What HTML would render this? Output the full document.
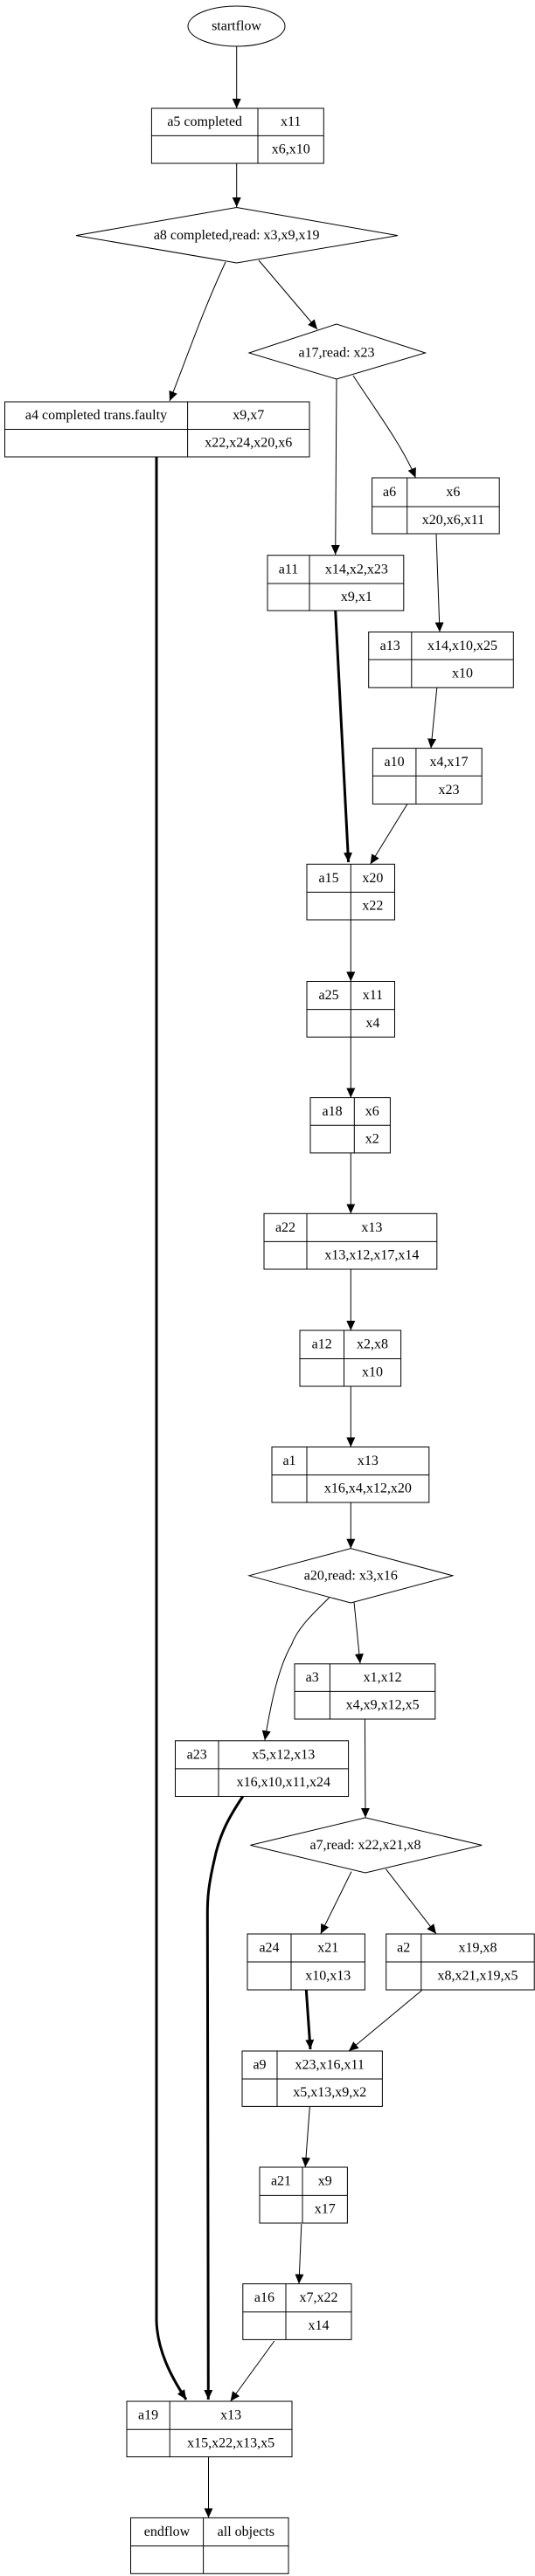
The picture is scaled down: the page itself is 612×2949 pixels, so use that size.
<!DOCTYPE html>
<html><head><meta charset="utf-8"><style>
html,body{margin:0;padding:0;background:#fff}
svg{display:block}
text{font-family:"Liberation Serif",serif;font-size:16px;fill:#000;text-anchor:middle;dominant-baseline:central}
.b rect,.b line{stroke:#000;stroke-width:1;fill:none}
.e{stroke:#000;stroke-width:1;fill:none}
.t{stroke:#000;stroke-width:3;fill:none}
</style></head><body>
<svg width="612" height="2949" viewBox="0 0 612 2949" xmlns="http://www.w3.org/2000/svg">
<defs>
<marker id="ar" markerUnits="userSpaceOnUse" markerWidth="12" markerHeight="10" refX="11" refY="5" orient="auto"><path d="M0,0 L11,5 L0,10 z" fill="#000"/></marker>
</defs>

<!-- startflow -->
<ellipse cx="270.5" cy="30" rx="55.5" ry="23" fill="none" stroke="#000"/>
<text x="270.5" y="30">startflow</text>

<!-- edges thin -->
<g marker-end="url(#ar)">
<path class="e" d="M270.7,53 L270.7,124"/>
<path class="e" d="M270.7,187 L270.7,237"/>
<path class="e" d="M258,300 C230,360 210,420 194,459"/>
<path class="e" d="M296,298 L363,377"/>
<path class="e" d="M385,434 L383.7,635"/>
<path class="e" d="M404,430 C430,470 460,510 475.5,547"/>
<path class="e" d="M499,611.6 L503,723.5"/>
<path class="e" d="M499.8,787.2 L493,856.6"/>
<path class="e" d="M466,920.4 L423.7,989.3"/>
<path class="e" d="M401.3,1053 L401.3,1123.5"/>
<path class="e" d="M401.3,1187.2 L401.3,1256.6"/>
<path class="e" d="M401.3,1319.9 L401.3,1389.3"/>
<path class="e" d="M401.3,1453 L401.3,1523"/>
<path class="e" d="M401.3,1587 L401.3,1656.5"/>
<path class="e" d="M401.3,1720 L401.3,1772.7"/>
<path class="e" d="M405,1834 L412,1904.3"/>
<path class="e" d="M376.6,1829 C355,1850 340,1865 333.5,1882.8 C318,1910 310,1950 302.9,1992.3"/>
<path class="e" d="M417.4,1968 L418,2080.9"/>
<path class="e" d="M402,2142.6 L366.8,2213.9"/>
<path class="e" d="M441.4,2139.7 L499,2213.9"/>
<path class="e" d="M482.5,2278.6 L399,2348"/>
<path class="e" d="M354.3,2412 L349.2,2481"/>
<path class="e" d="M344.8,2546 L342,2614.5"/>
<path class="e" d="M313.8,2680 L263.6,2749"/>
<path class="e" d="M238.5,2812.6 L238.5,2882.4"/>
</g>
<!-- thick edges -->
<g marker-end="url(#ar)">
<path class="t" d="M179,523 L179,2657 C180,2690 195,2720 213,2747"/>
<path class="t" d="M383.7,699 L398.6,987"/>
<path class="t" d="M277.8,2056.5 C262,2080 251,2100 245,2130 C238,2160 237.3,2175 237.3,2190 L238.3,2747"/>
<path class="t" d="M350.3,2277.7 L355,2346"/>
</g>

<!-- diamonds -->
<polygon points="87,269.6 270.7,237.5 455,269.6 270.7,301" fill="none" stroke="#000"/>
<text x="270.7" y="269.6">a8 completed,read: x3,x9,x19</text>
<polygon points="285,404 385,371 486.5,404 385,434" fill="none" stroke="#000"/>
<text x="385" y="404">a17,read: x23</text>
<polygon points="284.8,1803.8 401.3,1772.7 517.8,1803.8 401.3,1835" fill="none" stroke="#000"/>
<text x="401.3" y="1803.8">a20,read: x3,x16</text>
<polygon points="286.4,2112.4 418,2080.9 551.2,2112.4 418,2144" fill="none" stroke="#000"/>
<text x="418" y="2112.4">a7,read: x22,x21,x8</text>

<!-- boxes -->
<g class="b">
<rect x="173.4" y="124" width="196.9" height="63"/><line x1="173.4" y1="155.4" x2="370.3" y2="155.4"/><line x1="295" y1="124" x2="295" y2="187"/>
<rect x="5.5" y="460" width="348.5" height="63"/><line x1="5.5" y1="491.5" x2="354" y2="491.5"/><line x1="214.6" y1="460" x2="214.6" y2="523"/>
<rect x="425.6" y="547" width="145.6" height="64"/><line x1="425.6" y1="580" x2="571.2" y2="580"/><line x1="465.7" y1="547" x2="465.7" y2="611"/>
<rect x="306" y="635.7" width="155.8" height="63.3"/><line x1="306" y1="668" x2="461.8" y2="668"/><line x1="354" y1="635.7" x2="354" y2="699"/>
<rect x="421.7" y="723.5" width="165.6" height="63.7"/><line x1="421.7" y1="755.1" x2="587.3" y2="755.1"/><line x1="470.8" y1="723.5" x2="470.8" y2="787.2"/>
<rect x="426.4" y="856.6" width="124.8" height="63.8"/><line x1="426.4" y1="888.3" x2="551.2" y2="888.3"/><line x1="475.9" y1="856.6" x2="475.9" y2="920.4"/>
<rect x="351" y="989.3" width="100.5" height="63.7"/><line x1="351" y1="1021.4" x2="451.5" y2="1021.4"/><line x1="401.3" y1="989.3" x2="401.3" y2="1053"/>
<rect x="351" y="1123.5" width="100.5" height="63.7"/><line x1="351" y1="1155.6" x2="451.5" y2="1155.6"/><line x1="401.3" y1="1123.5" x2="401.3" y2="1187.2"/>
<rect x="355" y="1256.6" width="91.4" height="63.3"/><line x1="355" y1="1288.3" x2="446.4" y2="1288.3"/><line x1="405.3" y1="1256.6" x2="405.3" y2="1319.9"/>
<rect x="302" y="1389.3" width="197.8" height="63.7"/><line x1="302" y1="1421.4" x2="499.8" y2="1421.4"/><line x1="351" y1="1389.3" x2="351" y2="1453"/>
<rect x="343" y="1523" width="115.6" height="64"/><line x1="343" y1="1555.5" x2="458.6" y2="1555.5"/><line x1="393.5" y1="1523" x2="393.5" y2="1587"/>
<rect x="311" y="1656.5" width="179.8" height="63.5"/><line x1="311" y1="1688.5" x2="490.8" y2="1688.5"/><line x1="351" y1="1656.5" x2="351" y2="1720"/>
<rect x="337" y="1904.8" width="160.8" height="63.2"/><line x1="337" y1="1936.4" x2="497.8" y2="1936.4"/><line x1="377.4" y1="1904.8" x2="377.4" y2="1968"/>
<rect x="200.5" y="1992.8" width="198.1" height="63.7"/><line x1="200.5" y1="2024.9" x2="398.6" y2="2024.9"/><line x1="250" y1="1992.8" x2="250" y2="2056.5"/>
<rect x="283" y="2214" width="134.4" height="64"/><line x1="283" y1="2246" x2="417.4" y2="2246"/><line x1="333" y1="2214" x2="333" y2="2278"/>
<rect x="441.7" y="2214" width="169.5" height="64"/><line x1="441.7" y1="2246" x2="611.2" y2="2246"/><line x1="481.8" y1="2214" x2="481.8" y2="2278"/>
<rect x="277" y="2348" width="160.4" height="63.4"/><line x1="277" y1="2380" x2="437.4" y2="2380"/><line x1="317" y1="2348" x2="317" y2="2411.4"/>
<rect x="297" y="2481" width="100.4" height="64"/><line x1="297" y1="2513.4" x2="397.4" y2="2513.4"/><line x1="346" y1="2481" x2="346" y2="2545"/>
<rect x="277.8" y="2614.5" width="124.2" height="63.9"/><line x1="277.8" y1="2646.7" x2="402" y2="2646.7"/><line x1="327" y1="2614.5" x2="327" y2="2678.4"/>
<rect x="145" y="2749" width="189" height="63.6"/><line x1="145" y1="2781.3" x2="334" y2="2781.3"/><line x1="194.2" y1="2749" x2="194.2" y2="2812.6"/>
<rect x="149.5" y="2882.4" width="180.5" height="63.9"/><line x1="149.5" y1="2914.6" x2="330" y2="2914.6"/><line x1="232.6" y1="2882.4" x2="232.6" y2="2946.3"/>
</g>

<!-- box labels -->
<text x="234.2" y="139.7">a5 completed</text><text x="332.7" y="139.7">x11</text><text x="332.7" y="171.2">x6,x10</text>
<text x="110" y="475.7">a4 completed trans.faulty</text><text x="284.3" y="475.7">x9,x7</text><text x="284.3" y="507.2">x22,x24,x20,x6</text>
<text x="445.6" y="563.5">a6</text><text x="518.4" y="563.5">x6</text><text x="518.4" y="595.5">x20,x6,x11</text>
<text x="330" y="651.8">a11</text><text x="407.9" y="651.8">x14,x2,x23</text><text x="407.9" y="683.5">x9,x1</text>
<text x="446.2" y="739.3">a13</text><text x="529" y="739.3">x14,x10,x25</text><text x="529" y="771.2">x10</text>
<text x="451.1" y="872.4">a10</text><text x="513.5" y="872.4">x4,x17</text><text x="513.5" y="904.3">x23</text>
<text x="376.1" y="1005.3">a15</text><text x="426.4" y="1005.3">x20</text><text x="426.4" y="1037.2">x22</text>
<text x="376.1" y="1139.5">a25</text><text x="426.4" y="1139.5">x11</text><text x="426.4" y="1171.4">x4</text>
<text x="380.1" y="1272.4">a18</text><text x="425.8" y="1272.4">x6</text><text x="425.8" y="1304.1">x2</text>
<text x="326.5" y="1405.3">a22</text><text x="425.4" y="1405.3">x13</text><text x="425.4" y="1437.2">x13,x12,x17,x14</text>
<text x="368.2" y="1539.2">a12</text><text x="426" y="1539.2">x2,x8</text><text x="426" y="1571.2">x10</text>
<text x="331" y="1672.5">a1</text><text x="420.9" y="1672.5">x13</text><text x="420.9" y="1704.2">x16,x4,x12,x20</text>
<text x="357.2" y="1920.6">a3</text><text x="437.6" y="1920.6">x1,x12</text><text x="437.6" y="1952.2">x4,x9,x12,x5</text>
<text x="225.2" y="2008.8">a23</text><text x="324.3" y="2008.8">x5,x12,x13</text><text x="324.3" y="2040.7">x16,x10,x11,x24</text>
<text x="308" y="2230">a24</text><text x="375.2" y="2230">x21</text><text x="375.2" y="2262">x10,x13</text>
<text x="461.7" y="2230">a2</text><text x="546.5" y="2230">x19,x8</text><text x="546.5" y="2262">x8,x21,x19,x5</text>
<text x="297" y="2364">a9</text><text x="377.2" y="2364">x23,x16,x11</text><text x="377.2" y="2395.7">x5,x13,x9,x2</text>
<text x="321.5" y="2497.2">a21</text><text x="371.7" y="2497.2">x9</text><text x="371.7" y="2529.2">x17</text>
<text x="302.4" y="2630.6">a16</text><text x="364.5" y="2630.6">x7,x22</text><text x="364.5" y="2662.5">x14</text>
<text x="169.6" y="2765.1">a19</text><text x="264.1" y="2765.1">x13</text><text x="264.1" y="2797">x15,x22,x13,x5</text>
<text x="191" y="2898.5">endflow</text><text x="281.3" y="2898.5">all objects</text>
</svg>
</body></html>
